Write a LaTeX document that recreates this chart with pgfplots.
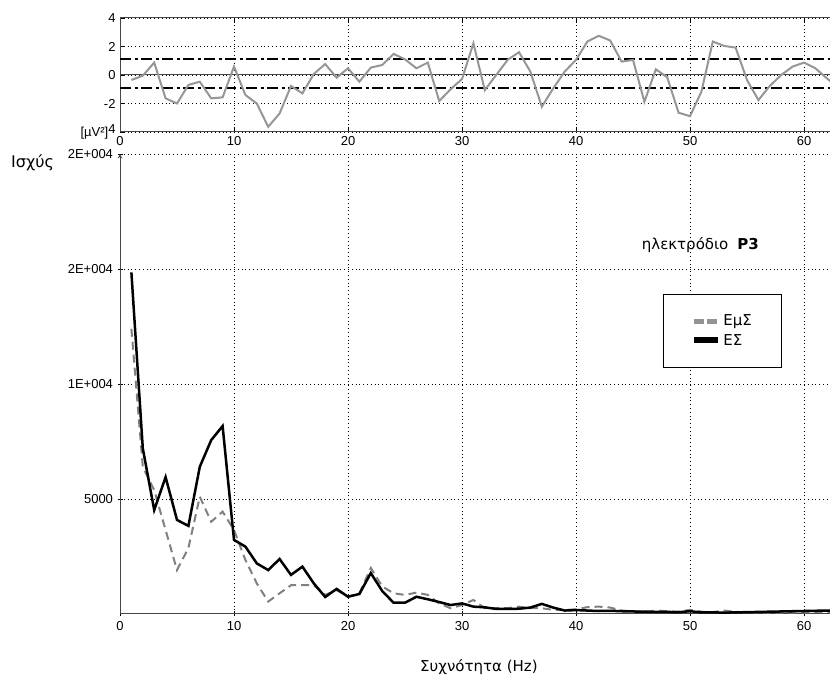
\documentclass[border=0pt]{standalone}
\usepackage{fontspec}
\setmainfont{DejaVu Sans}
\newfontfamily\arialf{Liberation Sans}
\usepackage{pgfplots}
\pgfplotsset{compat=1.18}

\definecolor{trendgray}{RGB}{150,150,150}
\definecolor{esmgray}{RGB}{128,128,128}
\definecolor{framegray}{RGB}{70,70,70}

\pgfplotsset{
  matlab/.style={
    scale only axis,
    anchor=south west,
    xmin=0, xmax=64,
    xtick={0,10,...,60},
    xticklabels={0,10,20,30,40,50,60},
    scaled ticks=false,
    tick align=inside,
    major tick length=5bp,
    tick style={black, line width=0.8bp},
    axis line style={framegray, line width=1bp},
    grid=major,
    grid style={black, line width=0.8bp, dash pattern=on 0.8bp off 3bp},
    tick label style={font=\arialf\fontsize{13bp}{15bp}\selectfont, black},
    xticklabel style={yshift=-1bp},
    yticklabel style={xshift=-1bp},
  }
}

\begin{document}
\begin{tikzpicture}[x=1bp,y=1bp]
\useasboundingbox (0,0) rectangle (830,682);

% upper panel: deviation of the two spectra
\begin{axis}[matlab,
  at={(120bp,550bp)},
  width=729.6bp, height=114bp,
  ymin=-4, ymax=4,
  ytick={-4,-2,0,2,4},
  yticklabels={{[µV²]\raisebox{3bp}{4}},-2,0,2,4},
  xtick pos=both, ytick pos=left,
]
  \addplot[framegray, line width=1bp] coordinates {(0,0) (64,0)};
  \addplot[black, line width=2bp, dash pattern=on 11bp off 3.5bp on 3bp off 3.5bp]
    coordinates {(0,1.1) (64,1.1)};
  \addplot[black, line width=2bp, dash pattern=on 11bp off 3.5bp on 3bp off 3.5bp]
    coordinates {(0,-0.9) (64,-0.9)};
  \addplot[trendgray, line width=2bp] coordinates {
    (1,-0.35) (2,-0.05) (3,0.87) (4,-1.64) (5,-2.0) (6,-0.7) (7,-0.47) (8,-1.64)
    (9,-1.57) (10,0.59) (11,-1.4) (12,-2.0) (13,-3.64) (14,-2.7) (15,-0.77) (16,-1.29)
    (17,0.07) (18,0.77) (19,-0.19) (20,0.47) (21,-0.47) (22,0.52) (23,0.70) (24,1.48)
    (25,1.1) (26,0.47) (27,0.87) (28,-1.83) (29,-1.0) (30,-0.28) (31,2.23) (32,-1.06)
    (33,0.0) (34,1.06) (35,1.6) (36,0.23) (37,-2.23) (38,-0.94) (39,0.23) (40,1.06)
    (41,2.35) (42,2.75) (43,2.42) (44,0.94) (45,1.06) (46,-1.88) (47,0.4) (48,-0.16)
    (49,-2.65) (50,-2.89) (51,-1.17) (52,2.35) (53,2.04) (54,1.92) (55,-0.35) (56,-1.76)
    (57,-0.77) (58,0.0) (59,0.59) (60,0.87) (61,0.47) (62,-0.23) (63,-0.9)
  };
\end{axis}

% lower panel: power spectra
\begin{axis}[matlab,
  at={(120bp,68bp)},
  width=729.6bp, height=460bp,
  ymin=0, ymax=20000,
  axis x line=bottom, axis y line=left,
  ytick={5000,10000,15000,20000},
  yticklabels={5000,1E+004,2E+004,2E+004},
  legend cell align=left,
  legend style={at={(0.744,0.696)}, anchor=north west,
    draw=black, line width=1bp, inner xsep=28bp, inner ysep=18.5bp,
    row sep=3bp, font=\fontsize{15bp}{17bp}\selectfont},
]
  \addplot[esmgray, line width=2bp, dash pattern=on 8bp off 5bp,
    legend image code/.code={\draw[esmgray!85, line width=5bp, dash pattern=on 10bp off 3bp] (0bp,0bp) -- (24bp,0bp);}]
    coordinates {
    (1,12400) (2,6400) (3,5390) (4,3650) (5,1910) (6,2870) (7,5100) (8,4010)
    (9,4450) (10,3650) (11,2350) (12,1330) (13,540) (14,900) (15,1250) (16,1250)
    (17,1250) (18,830) (19,1040) (20,750) (21,900) (22,2000) (23,1200) (24,900)
    (25,830) (26,930) (27,830) (28,460) (29,250) (30,390) (31,610) (32,250)
    (33,250) (34,250) (35,320) (36,250) (37,250) (38,180) (39,180) (40,200)
    (41,300) (42,320) (43,280) (44,150) (45,120) (46,100) (47,150) (48,120)
    (49,100) (50,180) (51,100) (52,80) (53,150) (54,90) (55,80) (56,70)
    (57,60) (58,60) (59,60) (60,70) (61,80) (62,90) (63,90)
  };
  \addlegendentry{ΕμΣ}
  \addplot[black, line width=2.5bp,
    legend image code/.code={\draw[black, line width=6bp] (0bp,0bp) -- (24bp,0bp);}]
    coordinates {
    (1,14850) (2,7200) (3,4520) (4,5950) (5,4090) (6,3830) (7,6400) (8,7560)
    (9,8170) (10,3220) (11,2930) (12,2200) (13,1910) (14,2390) (15,1700) (16,2060)
    (17,1330) (18,740) (19,1090) (20,750) (21,870) (22,1780) (23,1000) (24,490)
    (25,490) (26,750) (27,640) (28,520) (29,390) (30,460) (31,320) (32,290)
    (33,220) (34,220) (35,230) (36,280) (37,440) (38,280) (39,150) (40,170)
    (41,150) (42,130) (43,140) (44,120) (45,110) (46,100) (47,90) (48,90)
    (49,80) (50,120) (51,70) (52,70) (53,60) (54,70) (55,80) (56,90)
    (57,100) (58,110) (59,120) (60,130) (61,140) (62,150) (63,150)
  };
  \addlegendentry{ΕΣ}
  \node[anchor=base west, font=\fontsize{15bp}{17bp}\selectfont, inner sep=0pt]
    at (rel axis cs:0.715,0.793) {ηλεκτρόδιο\hspace{0.6em}\textbf{P3}};
\end{axis}

\node[anchor=base west, font=\fontsize{16bp}{18bp}\selectfont, inner sep=0pt] at (11,514) {Ισχύς};
\node[anchor=base west, font=\fontsize{15bp}{17bp}\selectfont, inner sep=0pt] at (420,10) {Συχνότητα (Hz)};
\end{tikzpicture}
\end{document}
